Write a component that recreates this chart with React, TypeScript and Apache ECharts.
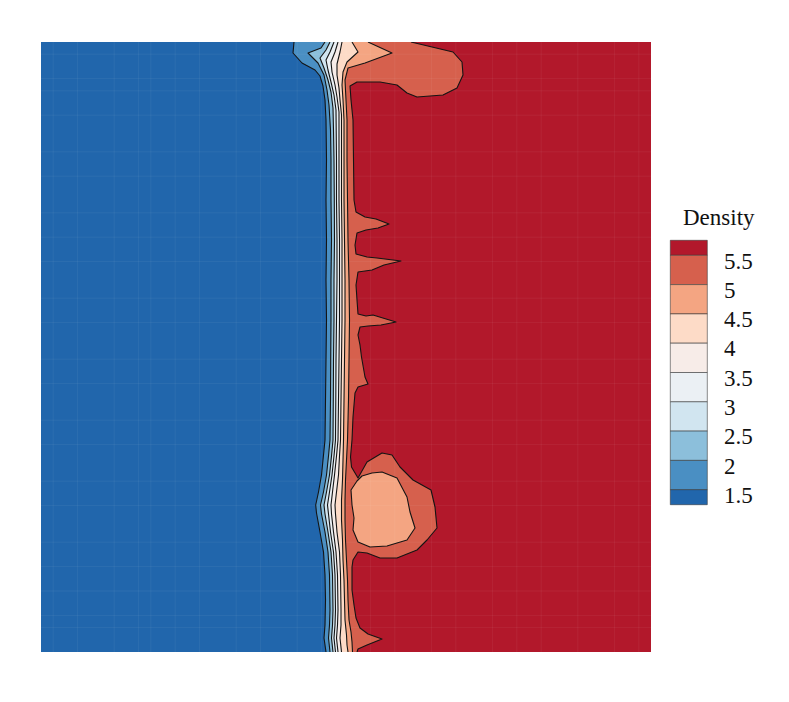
import React, { useEffect, useRef } from "react";
import * as echarts from "echarts";

// Contour levels and the fill colour of each band (index 0 = below 1.5, last = above 5.5)
const LEVELS = [1.5, 2, 2.5, 3, 3.5, 4, 4.5, 5, 5.5];
const BAND_COLORS = [
  "#2166ac",
  "#4a8fc3",
  "#8cbfdb",
  "#d1e5f0",
  "#ebf0f4",
  "#f7ece8",
  "#fddbc7",
  "#f4a582",
  "#d6604d",
  "#b2182b",
];
const LEGEND_TITLE = "Density";

// Domain of the field
const X_MAX = 610;
const Y_MAX = 610;

// Contour lines [x, y], running from the top edge to the bottom edge; density rises to the right.
const contour15 = [
  [253, 610], [252, 599], [261, 589], [274, 582], [279, 576], [282, 566], [284, 552], [285, 532],
  [285.5, 492], [285, 452], [285.5, 412], [285, 372], [285.5, 332], [285, 292], [284.5, 252], [284, 212],
  [282.5, 197], [280.5, 177], [277.5, 160], [274.7, 147], [275.5, 139], [279, 120], [282.5, 100],
  [284, 77], [284.5, 52], [284, 27], [283, 14], [285, 0],
];
const contour20 = [
  [284, 610], [280, 604], [267, 599], [277, 589], [283, 577], [286, 562], [288, 547], [289.5, 522],
  [290, 492], [290, 452], [290.5, 412], [290, 372], [290, 332], [289.7, 292], [289.5, 252], [289, 212],
  [287.5, 196], [285.5, 177], [282.5, 160], [279.5, 147], [280.5, 138], [284, 120], [287, 100],
  [288.5, 77], [289, 42], [288.5, 27], [287.5, 14], [289, 0],
];
const contour25 = [
  [289, 610], [285, 602], [279, 594], [283, 584], [287, 572], [290, 560], [292, 544], [292.5, 522],
  [293, 492], [293.3, 452], [293.5, 412], [293, 372], [293, 332], [292.5, 292], [292.3, 252], [292, 212],
  [290.5, 196], [288.5, 177], [285.5, 160], [283, 147], [284, 138], [287, 120], [290, 100],
  [291.5, 77], [292, 42], [291.5, 27], [290.5, 14], [292, 0],
];
const contour30 = [
  [293, 610], [289, 600], [285, 592], [287, 582], [290, 570], [293, 557], [295, 542], [295.5, 492],
  [295.5, 452], [296, 412], [296, 372], [295.5, 332], [295, 292], [294.8, 252], [294.5, 212],
  [293, 196], [291, 177], [288.5, 160], [286.5, 147], [287.5, 138], [289.5, 120], [292.5, 100],
  [294, 77], [294.5, 42], [294, 27], [293, 14], [294.5, 0],
];
const contour35 = [
  [297, 610], [294, 600], [290, 590], [291, 580], [294, 567], [296, 555], [298, 540], [298, 492],
  [298, 452], [298.5, 412], [298.5, 372], [298.5, 332], [298, 292], [297.5, 252], [297, 212],
  [295.5, 196], [293.5, 177], [291.5, 160], [290, 147], [290.5, 138], [292.5, 120], [295, 100],
  [296.5, 77], [297, 42], [296.5, 27], [295.5, 14], [297, 0],
];
const contour40 = [
  [301, 610], [299, 600], [296, 588], [296, 577], [298, 564], [299, 552], [300.5, 537], [300.5, 492],
  [300.5, 452], [301, 412], [301, 372], [301, 332], [300.5, 292], [300, 252], [299.5, 212],
  [298.5, 196], [297.5, 177], [295.5, 160], [294, 147], [294.5, 138], [296, 120], [298.5, 100],
  [299.5, 77], [300, 42], [300, 27], [299, 14], [300.5, 0],
];
const contour45 = [
  [311, 610], [317, 600], [306, 590], [302, 580], [301, 567], [302, 552], [303, 532], [303, 492],
  [303, 452], [303.5, 412], [304, 372], [304, 332], [303.5, 292], [303, 252], [302.5, 212],
  [302, 192], [301.5, 172], [300.5, 152], [300.5, 132], [301.5, 112], [302, 92], [303, 72],
  [303.5, 52], [304, 32], [305.5, 17], [306, 7], [307, 0],
];
const contour50 = [
  [327, 610], [351, 599], [324, 589], [307, 584], [304, 572], [305, 552], [306, 532], [306, 492],
  [306.5, 452], [307, 412], [308, 372], [308.5, 332], [308, 292], [307.5, 252], [306.5, 212],
  [305.5, 192], [304.5, 172], [304, 152], [304, 132], [304.5, 112], [305.5, 92], [306.5, 72],
  [307, 52], [308, 32], [310, 20], [311, 10], [311.5, 0],
];
const contour55 = [
  [370, 610], [412, 600], [421, 590], [422, 577], [416, 564], [402, 557], [376, 555], [366, 559],
  [356, 567], [339, 570], [316, 570], [309, 566], [310, 552], [312, 532], [312.5, 492], [313, 452],
  [315, 440], [324, 435], [335, 433], [348, 428], [337, 424], [325, 422], [316, 419],
  [314, 407], [315, 398], [326, 395], [336, 394], [360, 391], [343, 387], [331, 382], [317, 380],
  [315, 367], [316, 352], [317, 338], [325, 336], [332, 337], [355, 330], [340, 327], [327, 326],
  [319, 325], [317, 317], [319, 307], [320.5, 295], [324, 275], [327, 268], [317, 265], [314, 259],
  [312, 235], [311, 212], [309.5, 195], [310.5, 185], [317, 174], [326, 190], [341, 199], [351, 197],
  [359, 185], [372, 172], [390, 162], [394, 145], [396, 124], [386, 112], [376, 102], [356, 94],
  [339, 94], [326, 99], [317, 100], [312, 92], [311, 85], [311, 62], [313, 47], [315, 34],
  [319, 24], [327, 18], [341, 13], [326, 7], [317, 3], [316, 0],
];
// Closed 5-contour inside the lower lobe (density below 5 inside)
const hole50 = [
  [316, 171], [321, 176], [331, 179], [341, 180], [356, 174], [366, 155], [369, 140], [374, 124],
  [366, 112], [346, 106], [329, 105], [317, 110], [312, 122], [313, 134], [311, 147], [310, 162],
];

// Faint rendering seams of the underlying 50 x 50 grid (column / row indices)
const SEAM_COLS = [1, 3, 6, 8, 9, 11, 13, 16, 18, 21, 23, 25, 27, 29, 32, 34, 37, 39, 41, 44, 47, 49];
const SEAM_ROWS = [1, 3, 4, 6, 9, 11, 14, 16, 18, 21, 23, 26, 28, 31, 33, 36, 38, 41, 43, 45, 47, 48];
const GRID_N = 50;

const CONTOURS = [contour15, contour20, contour25, contour30, contour35, contour40, contour45, contour50, contour55];

type Item =
  | { kind: "bg" }
  | { kind: "fill"; i: number }
  | { kind: "hole" }
  | { kind: "vseam"; k: number }
  | { kind: "hseam"; k: number }
  | { kind: "line"; i: number }
  | { kind: "holeLine" };

const ITEMS: Item[] = [];
ITEMS.push({ kind: "bg" });
CONTOURS.forEach((_, i) => ITEMS.push({ kind: "fill", i }));
ITEMS.push({ kind: "hole" });
SEAM_COLS.forEach((k) => ITEMS.push({ kind: "vseam", k }));
SEAM_ROWS.forEach((k) => ITEMS.push({ kind: "hseam", k }));
CONTOURS.forEach((_, i) => ITEMS.push({ kind: "line", i }));
ITEMS.push({ kind: "holeLine" });

const LINE_COLOR = "#141414";
const LINE_WIDTH = 1.1;
const SEAM_STYLE = { stroke: "rgba(255,255,255,0.055)", lineWidth: 1 };
const SERIF = "Liberation Serif";

export default function App() {
  const ref = useRef<HTMLDivElement>(null);

  useEffect(() => {
    if (!ref.current) return;
    const chart = echarts.init(ref.current, undefined, { renderer: "svg" });

    const renderItem = (params: any, api: any) => {
      const it = ITEMS[params.dataIndex];
      const c = (p: number[]) => api.coord(p);
      switch (it.kind) {
        case "bg":
          return {
            type: "polygon",
            shape: { points: [[0, 0], [X_MAX, 0], [X_MAX, Y_MAX], [0, Y_MAX]].map(c) },
            style: { fill: BAND_COLORS[0] },
          };
        case "fill": {
          const pts = CONTOURS[it.i].concat([[X_MAX, 0], [X_MAX, Y_MAX]]).map(c);
          return { type: "polygon", shape: { points: pts }, style: { fill: BAND_COLORS[it.i + 1] } };
        }
        case "hole":
          return { type: "polygon", shape: { points: hole50.map(c) }, style: { fill: BAND_COLORS[7] } };
        case "vseam": {
          const x = (it.k * X_MAX) / GRID_N;
          const a = c([x, 0]);
          const b = c([x, Y_MAX]);
          return { type: "line", shape: { x1: a[0], y1: a[1], x2: b[0], y2: b[1] }, style: SEAM_STYLE };
        }
        case "hseam": {
          const y = Y_MAX - (it.k * Y_MAX) / GRID_N;
          const a = c([0, y]);
          const b = c([X_MAX, y]);
          return { type: "line", shape: { x1: a[0], y1: a[1], x2: b[0], y2: b[1] }, style: SEAM_STYLE };
        }
        case "line":
          return {
            type: "polyline",
            shape: { points: CONTOURS[it.i].map(c) },
            style: { fill: "none", stroke: LINE_COLOR, lineWidth: LINE_WIDTH, lineJoin: "round" },
          };
        case "holeLine":
          return {
            type: "polygon",
            shape: { points: hole50.map(c) },
            style: { fill: "none", stroke: LINE_COLOR, lineWidth: LINE_WIDTH, lineJoin: "round" },
          };
      }
      return null;
    };

    // Legend (keys from top = highest band)
    const keyX = 670;
    const keyW = 37;
    const keyTop = 240;
    const endH = 15;
    const stepH = 29.3;
    const graphics: any[] = [];
    const nBands = BAND_COLORS.length;
    let y = keyTop;
    for (let b = nBands - 1; b >= 0; b--) {
      const h = b === nBands - 1 || b === 0 ? endH : stepH;
      graphics.push({
        type: "rect",
        left: keyX,
        top: y,
        shape: { x: 0, y: 0, width: keyW, height: h },
        style: { fill: BAND_COLORS[b], stroke: "#3a3a3a", lineWidth: 0.6 },
        silent: true,
      });
      y += h;
    }
    LEVELS.forEach((lv, idx) => {
      const boundaryY = keyTop + endH + (LEVELS.length - 1 - idx) * stepH;
      graphics.push({
        type: "text",
        x: 724,
        y: boundaryY + 6,
        style: {
          text: String(lv),
          fill: "#111111",
          fontSize: 23,
          fontFamily: SERIF,
          align: "left",
          verticalAlign: "middle",
        },
        silent: true,
      });
    });
    graphics.push({
      type: "text",
      x: 683,
      y: 217,
      style: {
        text: LEGEND_TITLE,
        fill: "#111111",
        fontSize: 23,
        fontFamily: SERIF,
        align: "left",
        verticalAlign: "middle",
      },
      silent: true,
    });

    chart.setOption({
      animation: false,
      textStyle: { fontFamily: SERIF },
      grid: { left: 41, top: 42, width: 610, height: 610, containLabel: false },
      xAxis: { type: "value", min: 0, max: X_MAX, show: false },
      yAxis: { type: "value", min: 0, max: Y_MAX, show: false },
      series: [
        {
          type: "custom",
          silent: true,
          clip: true,
          renderItem,
          data: ITEMS.map((_, i) => [0, 0, i]),
        },
      ],
      graphic: graphics,
    });

    return () => chart.dispose();
  }, []);

  return (
    <div
      ref={ref}
      style={{ position: "fixed", left: 0, top: 0, width: 789, height: 702, background: "#ffffff" }}
    />
  );
}
